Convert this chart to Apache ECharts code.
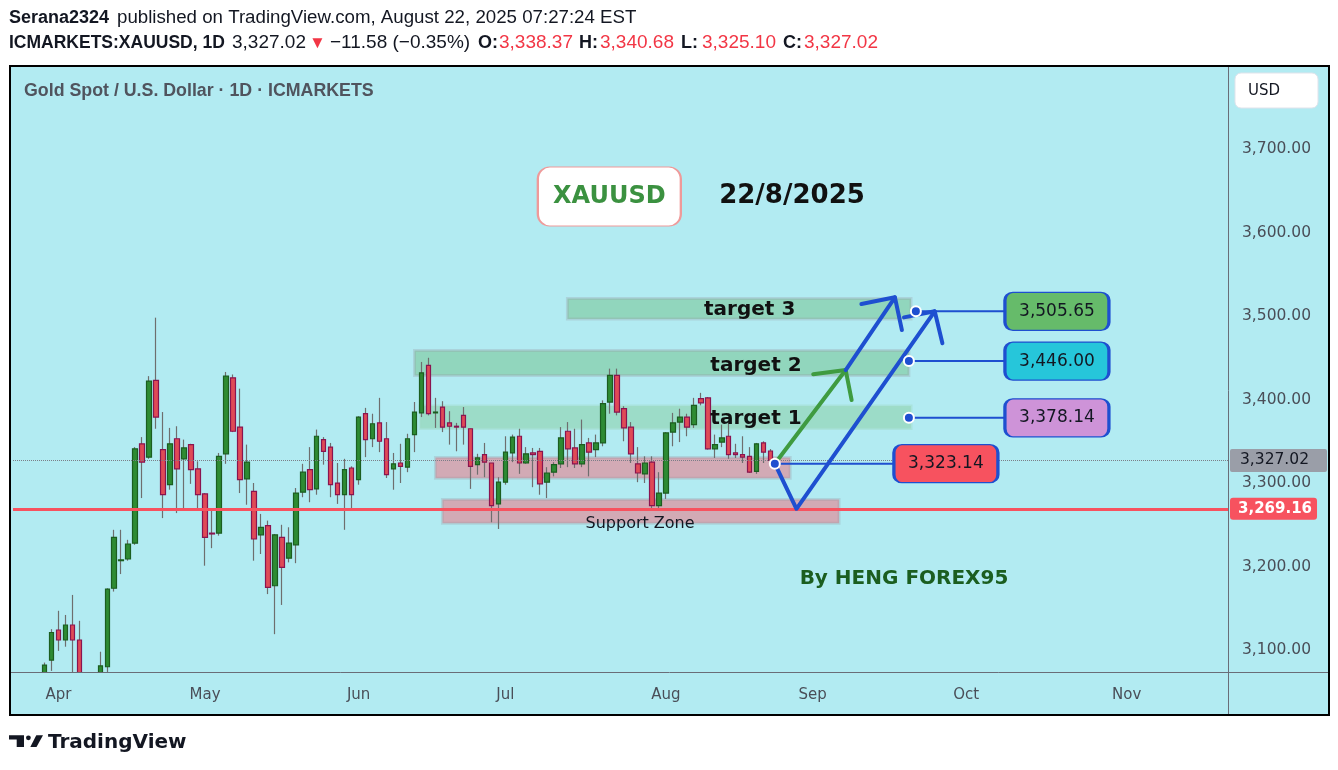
<!DOCTYPE html>
<html>
<head>
<meta charset="utf-8">
<script src="https://cdn.jsdelivr.net/npm/echarts/dist/echarts.min.js"></script>
<style>
html,body{margin:0;padding:0;background:#ffffff;}
#chart{width:1338px;height:770px;}
</style>
</head>
<body>
<div id="chart"></div>
<script>
// ---------------- DATA ----------------
const firstDay = '2025-03-24';
const dayCount = 174;
const holidays = ['2025-04-18'];
const monthNames = ['Jan','Feb','Mar','Apr','May','Jun','Jul','Aug','Sep','Oct','Nov','Dec'];

// daily candles from 2025-03-24 to 2025-08-22 (trading days)
const opens  = [3023,3011,3020,3019,3057,3088,3124,3112,3130,3112,3037,2983,2982,3080,3174,3207,3209,3228,3347,3331,
                3423,3340,3298,3353,3329,3346,3317,3287,3240,3240,3335,3426,3367,3305,3290,3238,3249,3177,3235,3210,
                3226,3289,3316,3293,3352,3343,3300,3286,3318,3304,3383,3353,3372,3353,3317,3324,3319,3358,3384,3441,
                3384,3391,3372,3368,3381,3365,3322,3334,3324,3275,3301,3336,3356,3324,3336,3338,3301,3313,3323,3362,
                3342,3323,3348,3340,3348,3397,3429,3389,3367,3323,3311,3325,3273,3288,3361,3373,3379,3370,3401,3402,
                3341,3349,3356,3336,3334,3332,3314,3348,3338.37];
const closes = [3011,3020,3019,3057,3082,3121,3112,3130,3112,3037,2982,2982,3081,3173,3235,3208,3227,3341,3325,3422,
                3379,3286,3347,3317,3342,3316,3286,3235,3239,3332,3428,3362,3304,3325,3233,3247,3175,3238,3199,3228,
                3288,3313,3292,3356,3338,3298,3286,3316,3286,3379,3352,3371,3350,3310,3323,3320,3353,3385,3432,3383,
                3385,3367,3368,3367,3367,3320,3330,3325,3273,3301,3337,3355,3324,3335,3334,3299,3312,3322,3354,3341,
                3323,3346,3337,3348,3395,3429,3385,3366,3335,3312,3324,3273,3288,3360,3372,3379,3367,3393,3396,3341,
                3346,3354,3334,3334,3331,3313,3347,3337,3327.02];
const lows   = [3000,3005,3012,3015,3054,3075,3099,3104,3054,3015,2957,2971,2957,3070,3170,3191,3207,3226,3282,3329,
                3365,3258,3292,3264,3268,3299,3267,3201,3222,3237,3323,3361,3288,3274,3207,3215,3167,3119,3154,3205,
                3204,3283,3277,3286,3322,3283,3275,3244,3269,3298,3331,3343,3337,3306,3292,3300,3313,3337,3379,3381,
                3366,3361,3346,3338,3346,3293,3310,3307,3253,3245,3298,3325,3311,3323,3295,3286,3282,3308,3318,3319,
                3318,3319,3308,3331,3344,3383,3381,3350,3324,3301,3300,3268,3269,3281,3344,3349,3356,3366,3393,3340,
                3330,3343,3329,3330,3324,3312,3311,3324,3325.10];
const highs  = [3036,3034,3033,3059,3085,3125,3147,3142,3166,3135,3055,3023,3098,3174,3244,3244,3232,3343,3355,3428,
                3498,3385,3366,3368,3352,3347,3326,3288,3268,3336,3433,3430,3413,3346,3300,3263,3255,3239,3250,3247,
                3294,3323,3343,3364,3355,3348,3324,3329,3320,3380,3390,3383,3402,3373,3336,3347,3359,3397,3445,3450,
                3402,3398,3386,3372,3391,3365,3335,3348,3324,3307,3356,3358,3365,3343,3342,3342,3319,3325,3367,3373,
                3365,3376,3354,3358,3399,3437,3437,3392,3373,3343,3332,3332,3313,3361,3384,3389,3383,3402,3408,3403,
                3358,3370,3373,3347,3356,3343,3348,3350,3340.68];

const lastPrice = 3327.02;
const supportLevel = 3269.16;
const entryLevel = 3323.14;
const targetLevels = [3505.65, 3446.00, 3378.14];
const priceTicks = [3100, 3200, 3300, 3400, 3500, 3600, 3700];

// drawings, in (trading-day index, price) coordinates
const zoneTarget3 = [[78.9, 3521.0], [128.1, 3496.4]];
const zoneTarget2 = [[57.0, 3458.7], [127.8, 3428.7]];
const zoneTarget1 = [[57.8, 3392.2], [128.1, 3365.3]];
const zoneEntry   = [[60.0, 3330.5], [110.8, 3305.6]];
const zoneSupport = [[61.0, 3280.2], [117.8, 3251.7]];

const bluePath   = [[108.6, entryLevel], [111.7, supportLevel], [131.5, 3505.65]];
const blueHead   = [[127.1, 3498.4], [131.5, 3505.65], [132.6, 3467.3]];
const greenPath  = [[108.6, entryLevel], [118.75, 3435.3]];
const greenHead  = [[114.1, 3430.2], [118.75, 3435.3], [119.6, 3399.4]];
const blue2Path  = [[118.75, 3435.3], [125.8, 3522.4]];
const blue2Head  = [[121.0, 3514.4], [125.8, 3522.4], [126.8, 3483.2]];

const calloutStart = [128.8, 127.8, 127.8];
const calloutBoxX = 149.0;
const calloutLineEnd = 141.6;
const entryBoxX = 133.1;
const entryLineEnd = 125.7;

const textNotes = [
  {text: 'target 3', x: 105.0, y: 3507.0},
  {text: 'target 2', x: 105.9, y: 3440.0},
  {text: 'target 1', x: 105.9, y: 3376.7}
];
const supportNote = {text: 'Support Zone', x: 89.3, y: 3251.0};
const authorNote = {text: 'By HENG FOREX95', x: 127.1, y: 3185.0};
const symbolNote = {text: 'XAUUSD', x: 84.9, y: 3643.1};
const dateNote = {text: '22/8/2025', x: 111.06, y: 3643.7};

// header texts
const headerLine1 = [
  {x: 9, text: 'Serana2324', bold: true, size: 18},
  {x: 117, text: 'published on TradingView.com, August 22, 2025 07:27:24 EST', size: 18.7}
];
const headerLine2 = [
  {x: 9, text: 'ICMARKETS:XAUUSD, 1D', bold: true, size: 17.5},
  {x: 232, text: '3,327.02', size: 19},
  {x: 309, text: '▼', red: true, size: 17},
  {x: 330, text: '−11.58 (−0.35%)', size: 19},
  {x: 478, text: 'O:', bold: true, size: 18},
  {x: 499, text: '3,338.37', red: true, size: 19},
  {x: 579, text: 'H:', bold: true, size: 18},
  {x: 600, text: '3,340.68', red: true, size: 19},
  {x: 681, text: 'L:', bold: true, size: 18},
  {x: 702, text: '3,325.10', red: true, size: 19},
  {x: 783, text: 'C:', bold: true, size: 18},
  {x: 804, text: '3,327.02', red: true, size: 19}
];

// ---------------- HELPERS ----------------
function fmt(v) { return v.toFixed(2).replace(/\B(?=(\d{3})+(?!\d))/g, ','); }
function buildDays(start, count, skip) {
  const out = [];
  const d = new Date(start + 'T00:00:00Z');
  while (out.length < count) {
    const wd = d.getUTCDay();
    const s = d.toISOString().slice(0, 10);
    if (wd !== 0 && wd !== 6 && skip.indexOf(s) < 0) out.push(s);
    d.setUTCDate(d.getUTCDate() + 1);
  }
  return out;
}
function rrPath(w, h, r) {
  return 'path://M' + r + ',0 L' + (w - r) + ',0 A' + r + ',' + r + ' 0 0 1 ' + w + ',' + r +
    ' L' + w + ',' + (h - r) + ' A' + r + ',' + r + ' 0 0 1 ' + (w - r) + ',' + h +
    ' L' + r + ',' + h + ' A' + r + ',' + r + ' 0 0 1 0,' + (h - r) +
    ' L0,' + r + ' A' + r + ',' + r + ' 0 0 1 ' + r + ',0 Z';
}
const days = buildDays(firstDay, dayCount, holidays);
const wickData = opens.map((o, i) => [o, closes[i], lows[i], highs[i]]);
const bodyData = opens.map((o, i) => [o, closes[i], Math.min(o, closes[i]), Math.max(o, closes[i])]);

const FONT = 'DejaVu Sans';
const HFONT = 'Liberation Sans';
const BLUE = '#1e4fd0';
const BG = '#b2ebf2';
const CLEAR = {color: 'rgba(0,0,0,0)', opacity: 1};

function drawLine(data, color, width, z) {
  return {type: 'line', xAxisIndex: 1, yAxisIndex: 0, data: data, symbol: 'none', silent: true,
    animation: false, clip: false, z: z,
    lineStyle: {color: color, width: width, cap: 'round', join: 'round'}};
}
function zoneItem(z, fill, border) {
  return [{coord: z[0], itemStyle: {color: fill, borderColor: border, borderWidth: 3}}, {coord: z[1]}];
}
function textSeries(items, style, z) {
  return {type: 'scatter', xAxisIndex: 1, yAxisIndex: 0, symbolSize: 1, silent: true, animation: false, z: z,
    itemStyle: CLEAR,
    data: items.map(t => ({value: [t.x, t.y], label: Object.assign({show: true, position: 'inside', formatter: t.text}, style)}))};
}
function headerTexts(items, y) {
  return items.map(t => ({type: 'text', z: 51, silent: true, x: t.x, y: y,
    style: {text: t.text, fill: t.red ? '#f23645' : '#131722', verticalAlign: 'middle',
      font: (t.bold ? 'bold ' : '') + t.size + 'px "' + HFONT + '"'}}));
}

const chart = echarts.init(document.getElementById('chart'), null, {renderer: 'canvas'});

const option = {
  animation: false,
  backgroundColor: '#ffffff',
  grid: {left: 13, right: 110, top: 67, bottom: 98, containLabel: false, outerBoundsMode: 'none'},
  xAxis: [
    {type: 'category', data: days, boundaryGap: true, z: 10,
      axisLine: {show: false}, axisTick: {show: false}, splitLine: {show: false},
      axisLabel: {
        color: '#4a4e58', fontSize: 15, fontFamily: FONT, margin: 16,
        interval: function (index, value) { return index > 0 && value.slice(5, 7) !== days[index - 1].slice(5, 7); },
        formatter: function (value) { return monthNames[parseInt(value.slice(5, 7), 10) - 1]; }
      }},
    {type: 'value', min: -0.5, max: dayCount - 0.5, show: false}
  ],
  yAxis: [{
    type: 'value', position: 'right', min: 3073.7, max: 3798.2, minInterval: 100, maxInterval: 100, splitNumber: 7, z: 10,
    axisLine: {show: false}, axisTick: {show: false}, splitLine: {show: false},
    axisLabel: {color: '#4a4e58', fontSize: 15.5, fontFamily: FONT, margin: 14, showMinLabel: false, showMaxLabel: false,
      formatter: function (v) { return priceTicks.indexOf(Math.round(v)) >= 0 ? fmt(v) : ''; }}
  }],
  series: [
    // zones
    {type: 'line', xAxisIndex: 1, yAxisIndex: 0, data: [[0, 3400]], symbol: 'none', silent: true, z: 1,
      lineStyle: {opacity: 0},
      markArea: {silent: true, animation: false, data: [
        zoneItem(zoneTarget3, '#91d6bd', 'rgba(150,150,160,0.28)'),
        zoneItem(zoneTarget2, '#91d6bd', 'rgba(150,150,160,0.28)'),
        zoneItem(zoneTarget1, '#9cdcc8', 'rgba(160,220,200,0.5)'),
        zoneItem(zoneEntry, '#d2aab5', 'rgba(150,150,160,0.28)'),
        zoneItem(zoneSupport, '#d2aab5', 'rgba(150,150,160,0.28)')
      ]}},
    // wicks
    {type: 'candlestick', xAxisIndex: 0, yAxisIndex: 0, data: wickData, barWidth: 1, clip: true, silent: true, z: 3,
      itemStyle: {color: 'rgba(0,0,0,0)', color0: 'rgba(0,0,0,0)', borderColor: '#6e6e6e', borderColor0: '#6e6e6e', borderWidth: 1.2}},
    // bodies
    {type: 'candlestick', xAxisIndex: 0, yAxisIndex: 0, data: bodyData, barWidth: 5, clip: true, silent: true, z: 3,
      itemStyle: {color: '#2e8b33', color0: '#df4a56', borderColor: '#1b5e20', borderColor0: '#8a1450', borderWidth: 1.2},
      markLine: {symbol: ['none', 'none'], silent: true, animation: false, data: [
        {yAxis: lastPrice, lineStyle: {color: '#7b7e88', type: 'dotted', width: 1},
          label: {show: true, position: 'end', distance: 2, formatter: fmt(lastPrice), color: '#131722',
            backgroundColor: '#9a9ea8', fontSize: 15.5, fontFamily: FONT, padding: [4, 18, 3, 10], borderRadius: 2}},
        {yAxis: supportLevel, lineStyle: {color: '#f7525f', type: 'solid', width: 3},
          label: {show: true, position: 'end', distance: 2, formatter: fmt(supportLevel), color: '#ffffff', fontWeight: 'bold',
            backgroundColor: '#f7525f', fontSize: 15, fontFamily: FONT, padding: [4, 5, 3, 8], borderRadius: 3}}
      ]}},
    // callout lines
    drawLine([[calloutStart[0], targetLevels[0]], [calloutLineEnd, targetLevels[0]]], BLUE, 2, 5),
    drawLine([[calloutStart[1], targetLevels[1]], [calloutLineEnd, targetLevels[1]]], BLUE, 2, 5),
    drawLine([[calloutStart[2], targetLevels[2]], [calloutLineEnd, targetLevels[2]]], BLUE, 2, 5),
    drawLine([[bluePath[0][0], entryLevel], [entryLineEnd, entryLevel]], BLUE, 2, 5),
    // arrows
    drawLine(greenPath, '#3f9b40', 4, 6),
    drawLine(greenHead, '#3f9b40', 4, 6),
    drawLine(bluePath, BLUE, 4, 6),
    drawLine(blueHead, BLUE, 4, 6),
    drawLine(blue2Path, BLUE, 4, 6),
    drawLine(blue2Head, BLUE, 4, 6),
    // dots
    {type: 'scatter', xAxisIndex: 1, yAxisIndex: 0, symbol: 'circle', symbolSize: 10, silent: true, z: 7,
      itemStyle: {color: BLUE, borderColor: '#ffffff', borderWidth: 2, opacity: 1},
      data: [[calloutStart[0], targetLevels[0]], [calloutStart[1], targetLevels[1]], [calloutStart[2], targetLevels[2]], [bluePath[0][0], entryLevel]]},
    // callout boxes
    {type: 'scatter', xAxisIndex: 1, yAxisIndex: 0, symbol: rrPath(104, 38, 8), symbolSize: [104, 38], symbolKeepAspect: false,
      silent: true, z: 8,
      itemStyle: {borderColor: BLUE, borderWidth: 2, opacity: 1},
      label: {show: true, position: 'inside', color: '#131722', fontSize: 17, fontFamily: FONT,
        formatter: function (p) { return fmt(p.value[1]); }},
      data: [
        {value: [calloutBoxX, targetLevels[0]], itemStyle: {color: '#66bb6a'}},
        {value: [calloutBoxX, targetLevels[1]], itemStyle: {color: '#26c6da'}},
        {value: [calloutBoxX, targetLevels[2]], itemStyle: {color: '#ce93d8'}},
        {value: [entryBoxX, entryLevel], itemStyle: {color: '#f7525f'}}
      ]},
    // symbol box
    {type: 'scatter', xAxisIndex: 1, yAxisIndex: 0, symbol: rrPath(143, 59, 12), symbolSize: [143, 59], symbolKeepAspect: false,
      silent: true, z: 8,
      itemStyle: {color: '#ffffff', borderColor: '#ef9a9a', borderWidth: 1.5, opacity: 1},
      label: {show: true, position: 'inside', formatter: symbolNote.text, color: '#3b9140', fontSize: 24, fontWeight: 'bold', fontFamily: FONT},
      data: [[symbolNote.x, symbolNote.y]]},
    textSeries([dateNote], {color: '#111111', fontSize: 26, fontWeight: 'bold', fontFamily: FONT}, 8),
    textSeries(textNotes, {color: '#111111', fontSize: 20, fontWeight: 'bold', fontFamily: FONT}, 4),
    textSeries([supportNote], {color: '#131722', fontSize: 16, fontFamily: FONT}, 4),
    textSeries([authorNote], {color: '#1b5e20', fontSize: 20, fontWeight: 'bold', fontFamily: FONT}, 4)
  ],
  graphic: [
    {type: 'rect', z: -10, silent: true, shape: {x: 10, y: 66, width: 1319, height: 649},
      style: {fill: BG, stroke: null}},
    // covers for candles running past the price range
    {type: 'rect', z: 5, silent: true, shape: {x: 11, y: 673, width: 1317, height: 41}, style: {fill: BG}},
    {type: 'rect', z: 5, silent: true, shape: {x: 0, y: 715, width: 1338, height: 55}, style: {fill: '#ffffff'}},
    {type: 'rect', z: 49, silent: true, shape: {x: 10, y: 66, width: 1319, height: 649},
      style: {fill: null, stroke: '#000000', lineWidth: 2}},
    {type: 'line', z: 50, silent: true, shape: {x1: 1228.5, y1: 67, x2: 1228.5, y2: 714}, style: {stroke: '#6a6d78', lineWidth: 1}},
    {type: 'line', z: 50, silent: true, shape: {x1: 11, y1: 672.5, x2: 1328, y2: 672.5}, style: {stroke: '#6a6d78', lineWidth: 1}},
    {type: 'rect', z: 50, silent: true, shape: {x: 1235, y: 73, width: 83, height: 35, r: 6},
      style: {fill: '#ffffff', stroke: '#e0e3eb', lineWidth: 1}},
    {type: 'text', z: 51, silent: true, x: 1248, y: 91,
      style: {text: 'USD', fill: '#131722', font: '15px "' + FONT + '"', verticalAlign: 'middle'}},
    {type: 'text', z: 51, silent: true, x: 24, y: 91,
      style: {text: 'Gold Spot / U.S. Dollar · 1D · ICMARKETS', fill: '#50545e', font: 'bold 17.8px "' + HFONT + '"', verticalAlign: 'middle'}},
    {type: 'polygon', z: 51, silent: true, shape: {points: [[9, 735.3], [24, 735.3], [24, 747], [16.7, 747], [16.7, 739.5], [9, 739.5]]},
      style: {fill: '#131722'}},
    {type: 'circle', z: 51, silent: true, shape: {cx: 28.4, cy: 737.8, r: 2.4}, style: {fill: '#131722'}},
    {type: 'polygon', z: 51, silent: true, shape: {points: [[36.3, 735.3], [43, 735.3], [36.5, 747], [30.3, 747]]},
      style: {fill: '#131722'}},
    {type: 'text', z: 51, silent: true, x: 48, y: 743,
      style: {text: 'TradingView', fill: '#131722', font: 'bold 20px "' + FONT + '"', verticalAlign: 'middle'}}
  ].concat(headerTexts(headerLine1, 18), headerTexts(headerLine2, 43))
};
chart.setOption(option);
</script>
</body>
</html>
